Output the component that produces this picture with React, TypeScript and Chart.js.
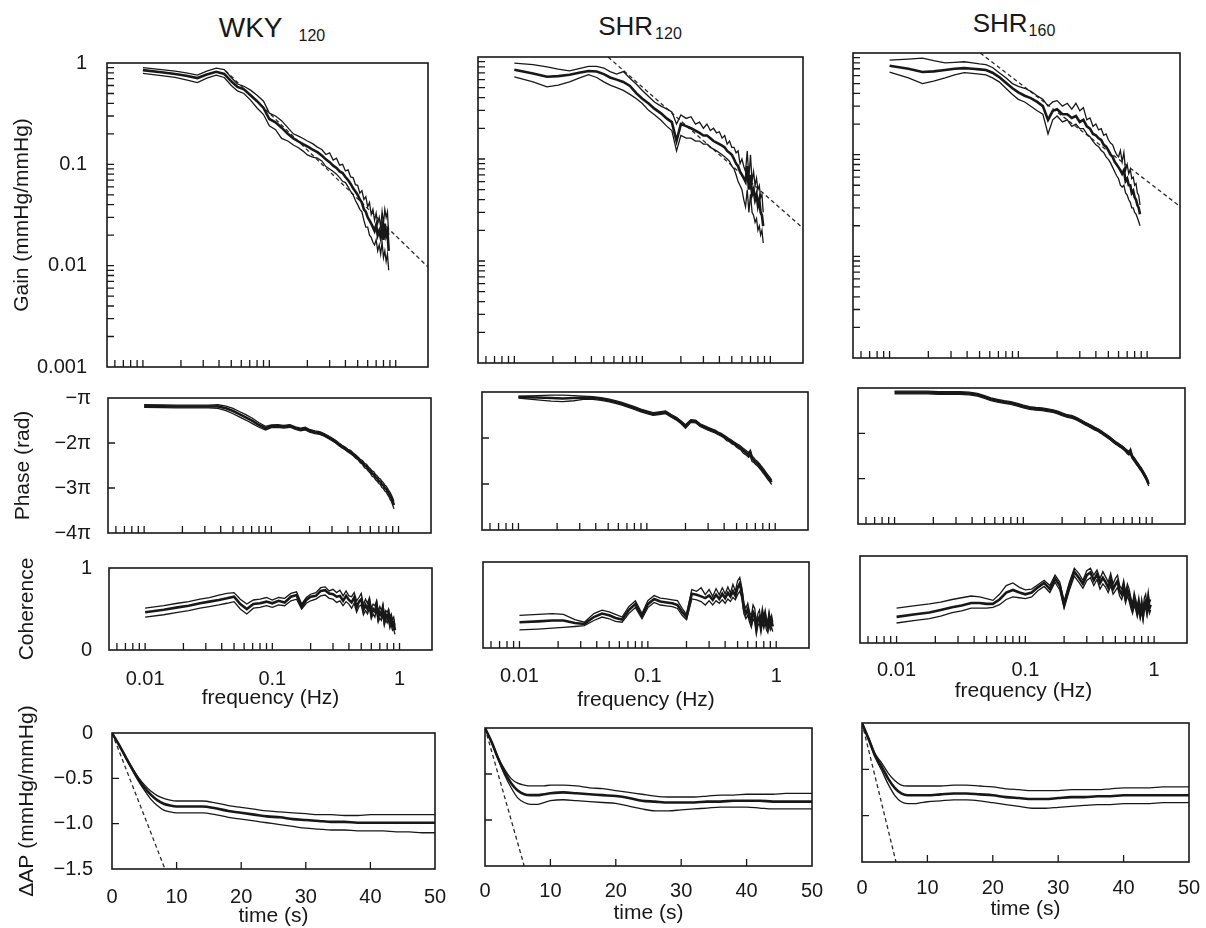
import React, { useEffect, useRef } from "react";
import { Chart, registerables } from "chart.js";
Chart.register(...registerables);

const FONT = '"Liberation Sans", Arial, Helvetica, sans-serif';
const INK = "#181818";

// ---------- shared axes ----------
const FREQ = [0.010, 0.014, 0.018, 0.022, 0.027, 0.032, 0.038, 0.044, 0.050, 0.056, 0.063, 0.071, 0.080, 0.090, 0.100, 0.112, 0.125, 0.140, 0.155, 0.170, 0.185, 0.200, 0.220, 0.240, 0.260, 0.280, 0.300, 0.320, 0.340, 0.360, 0.380, 0.400, 0.420, 0.440, 0.460, 0.480, 0.500, 0.520, 0.540, 0.560, 0.580, 0.600, 0.620, 0.640, 0.660, 0.680, 0.700, 0.720, 0.740, 0.760, 0.780, 0.800, 0.820, 0.840, 0.860, 0.880, 0.900, 0.920, 0.940];
const TIME = [0, 1, 2, 3, 4, 5, 6, 7, 8, 9, 10, 12, 14, 16, 18, 20, 22, 24, 26, 28, 30, 32, 34, 36, 38, 40, 42, 44, 46, 48, 50];

const FREQ_LABEL_VALUES = [0.01, 0.1, 1];
const FREQ_LABELS = ["0.01", "0.1", "1"];
const GAIN_LABEL_VALUES = [0.001, 0.01, 0.1, 1];
const GAIN_LABELS = ["0.001", "0.01", "0.1", "1"];
const PHASE_LABEL_VALUES = [-4, -3, -2, -1];
const PHASE_LABELS = ["\u22124\u03c0", "\u22123\u03c0", "\u22122\u03c0", "\u2212\u03c0"];
const COH_LABEL_VALUES = [0, 1];
const COH_LABELS = ["0", "1"];
const TIME_LABEL_VALUES = [0, 10, 20, 30, 40, 50];
const TIME_LABELS = ["0", "10", "20", "30", "40", "50"];
const DAP_LABEL_VALUES = [-1.5, -1, -0.5, 0];
const DAP_LABELS = ["\u22121.5", "\u22121.0", "\u22120.5", "0"];

const FREQ_TICK_MARKS = [0.006, 0.007, 0.008, 0.009, 0.01, 0.02, 0.03, 0.04, 0.05, 0.06, 0.07, 0.08, 0.09, 0.1, 0.2, 0.3, 0.4, 0.5, 0.6, 0.7, 0.8, 0.9, 1];
const GAIN_TICK_MARKS = [0.002, 0.003, 0.004, 0.005, 0.006, 0.007, 0.008, 0.009, 0.01, 0.02, 0.03, 0.04, 0.05, 0.06, 0.07, 0.08, 0.09, 0.1, 0.2, 0.3, 0.4, 0.5, 0.6, 0.7, 0.8, 0.9];
const PHASE_TICK_MARKS = [-2, -3];
const TIME_X_TICK_MARKS = [10, 20, 30, 40];
const TIME_Y_TICK_MARKS = [-0.5, -1];

// ---------- WKY120 ----------
const WKY_GAIN_UP = [0.90, 0.86, 0.83, 0.80, 0.76, 0.83, 0.89, 0.86, 0.72, 0.62, 0.59, 0.54, 0.48, 0.42, 0.32, 0.30, 0.27, 0.23, 0.20, 0.19, 0.18, 0.17, 0.16, 0.148, 0.14, 0.125, 0.13, 0.11, 0.115, 0.098, 0.10, 0.086, 0.088, 0.075, 0.074, 0.063, 0.062, 0.052, 0.055, 0.045, 0.048, 0.038, 0.042, 0.032, 0.036, 0.028, 0.033, 0.026, 0.03, 0.024, 0.034, 0.026, 0.036, 0.03, 0.034, 0.02, null, null, null];
const WKY_GAIN_MEAN = [0.85, 0.81, 0.78, 0.75, 0.71, 0.77, 0.82, 0.78, 0.66, 0.58, 0.55, 0.48, 0.42, 0.36, 0.28, 0.26, 0.23, 0.20, 0.18, 0.168, 0.158, 0.15, 0.14, 0.132, 0.122, 0.112, 0.105, 0.097, 0.092, 0.085, 0.082, 0.075, 0.07, 0.064, 0.058, 0.054, 0.05, 0.045, 0.042, 0.036, 0.034, 0.03, 0.028, 0.026, 0.024, 0.022, 0.025, 0.02, 0.022, 0.019, 0.024, 0.018, 0.026, 0.02, 0.022, 0.014, null, null, null];
const WKY_GAIN_LO = [0.79, 0.75, 0.72, 0.68, 0.64, 0.71, 0.76, 0.72, 0.60, 0.53, 0.50, 0.43, 0.36, 0.31, 0.24, 0.22, 0.18, 0.17, 0.155, 0.146, 0.135, 0.124, 0.118, 0.115, 0.108, 0.095, 0.09, 0.085, 0.08, 0.074, 0.068, 0.066, 0.06, 0.054, 0.05, 0.044, 0.04, 0.036, 0.034, 0.028, 0.024, 0.024, 0.02, 0.019, 0.017, 0.016, 0.018, 0.014, 0.016, 0.013, 0.017, 0.012, 0.014, 0.011, 0.013, 0.009, null, null, null];
const WKY_GAIN_DASH_F = [0.045, 1.8];
const WKY_GAIN_DASH_G = [0.84, 0.0097];

const WKY_PHASE_UP = [-1.15, -1.155, -1.16, -1.16, -1.16, -1.16, -1.15, -1.18, -1.23, -1.30, -1.37, -1.45, -1.55, -1.63, -1.60, -1.59, -1.61, -1.59, -1.64, -1.67, -1.65, -1.70, -1.73, -1.75, -1.79, -1.84, -1.89, -1.94, -2.00, -2.05, -2.09, -2.14, -2.16, -2.22, -2.26, -2.31, -2.36, -2.39, -2.45, -2.47, -2.53, -2.57, -2.62, -2.64, -2.70, -2.73, -2.78, -2.80, -2.85, -2.88, -2.93, -2.96, -3.01, -3.06, -3.10, -3.16, -3.22, -3.30, null];
const WKY_PHASE_MEAN = [-1.18, -1.185, -1.19, -1.19, -1.19, -1.19, -1.19, -1.23, -1.29, -1.36, -1.43, -1.51, -1.60, -1.67, -1.63, -1.62, -1.64, -1.62, -1.67, -1.70, -1.68, -1.73, -1.76, -1.78, -1.82, -1.87, -1.92, -1.97, -2.03, -2.08, -2.12, -2.17, -2.20, -2.25, -2.30, -2.34, -2.40, -2.43, -2.50, -2.52, -2.58, -2.62, -2.68, -2.70, -2.76, -2.79, -2.84, -2.86, -2.92, -2.94, -3.00, -3.02, -3.08, -3.12, -3.18, -3.22, -3.30, -3.38, null];
const WKY_PHASE_LO = [-1.21, -1.215, -1.22, -1.22, -1.22, -1.22, -1.23, -1.28, -1.35, -1.42, -1.49, -1.57, -1.65, -1.71, -1.66, -1.65, -1.67, -1.65, -1.70, -1.73, -1.71, -1.76, -1.79, -1.81, -1.85, -1.90, -1.95, -2.00, -2.06, -2.11, -2.15, -2.20, -2.24, -2.28, -2.34, -2.37, -2.44, -2.47, -2.55, -2.57, -2.63, -2.67, -2.74, -2.76, -2.82, -2.85, -2.90, -2.92, -2.99, -3.01, -3.07, -3.09, -3.15, -3.19, -3.26, -3.30, -3.38, -3.46, null];

const WKY_COH_UP = [0.51, 0.54, 0.57, 0.59, 0.62, 0.64, 0.67, 0.69, 0.70, 0.62, 0.56, 0.61, 0.62, 0.64, 0.61, 0.64, 0.63, 0.69, 0.71, 0.56, 0.64, 0.68, 0.70, 0.76, 0.77, 0.72, 0.74, 0.70, 0.73, 0.66, 0.72, 0.66, 0.65, 0.70, 0.60, 0.64, 0.69, 0.55, 0.62, 0.57, 0.64, 0.51, 0.56, 0.54, 0.60, 0.47, 0.53, 0.48, 0.56, 0.43, 0.48, 0.46, 0.50, 0.40, 0.44, 0.37, 0.40, 0.30, null];
const WKY_COH_MEAN = [0.46, 0.49, 0.52, 0.54, 0.57, 0.59, 0.61, 0.63, 0.65, 0.56, 0.50, 0.56, 0.57, 0.59, 0.57, 0.60, 0.58, 0.65, 0.67, 0.53, 0.61, 0.65, 0.66, 0.72, 0.73, 0.69, 0.68, 0.65, 0.66, 0.60, 0.66, 0.61, 0.58, 0.64, 0.52, 0.59, 0.62, 0.49, 0.55, 0.50, 0.58, 0.44, 0.50, 0.47, 0.55, 0.40, 0.46, 0.42, 0.50, 0.36, 0.43, 0.39, 0.44, 0.33, 0.38, 0.30, 0.33, 0.24, null];
const WKY_COH_LO = [0.40, 0.43, 0.46, 0.48, 0.51, 0.53, 0.55, 0.57, 0.59, 0.50, 0.44, 0.51, 0.52, 0.54, 0.52, 0.55, 0.54, 0.60, 0.62, 0.50, 0.57, 0.60, 0.62, 0.66, 0.67, 0.63, 0.62, 0.58, 0.60, 0.54, 0.59, 0.56, 0.51, 0.57, 0.46, 0.53, 0.55, 0.43, 0.48, 0.44, 0.51, 0.38, 0.44, 0.40, 0.49, 0.34, 0.39, 0.36, 0.43, 0.30, 0.37, 0.33, 0.37, 0.27, 0.32, 0.24, 0.26, 0.19, null];

const WKY_STEP_UP = [0, -0.12, -0.25, -0.37, -0.48, -0.57, -0.64, -0.69, -0.72, -0.74, -0.75, -0.75, -0.75, -0.77, -0.80, -0.82, -0.84, -0.86, -0.87, -0.88, -0.89, -0.90, -0.90, -0.91, -0.91, -0.90, -0.90, -0.90, -0.90, -0.90, -0.90];
const WKY_STEP_MEAN = [0, -0.12, -0.25, -0.38, -0.50, -0.60, -0.68, -0.74, -0.78, -0.80, -0.81, -0.81, -0.81, -0.83, -0.86, -0.88, -0.90, -0.92, -0.93, -0.95, -0.96, -0.97, -0.98, -0.98, -0.99, -0.99, -0.99, -0.99, -0.99, -0.99, -0.99];
const WKY_STEP_LO = [0, -0.12, -0.26, -0.39, -0.52, -0.63, -0.73, -0.80, -0.85, -0.87, -0.88, -0.88, -0.88, -0.90, -0.93, -0.95, -0.97, -0.99, -1.01, -1.03, -1.05, -1.06, -1.07, -1.07, -1.08, -1.08, -1.08, -1.09, -1.09, -1.10, -1.10];
const WKY_STEP_DASH_T = [0, 8.2];
const WKY_STEP_DASH_V = [0, -1.5];

// ---------- SHR120 ----------
const SHR120_GAIN_UP = [0.87, 0.84, 0.80, 0.76, 0.73, 0.77, 0.81, 0.81, 0.78, 0.72, 0.68, 0.72, 0.62, 0.54, 0.47, 0.41, 0.36, 0.33, 0.31, 0.29, 0.22, 0.27, 0.25, 0.26, 0.22, 0.23, 0.20, 0.22, 0.19, 0.20, 0.18, 0.185, 0.16, 0.17, 0.14, 0.15, 0.13, 0.13, 0.115, 0.12, 0.09, 0.10, 0.085, 0.075, 0.12, 0.065, 0.11, 0.06, 0.075, 0.055, 0.065, 0.05, 0.055, 0.042, 0.045, 0.03, null, null, null];
const SHR120_GAIN_MEAN = [0.75, 0.69, 0.64, 0.65, 0.67, 0.70, 0.73, 0.72, 0.68, 0.63, 0.60, 0.57, 0.52, 0.44, 0.39, 0.35, 0.31, 0.28, 0.25, 0.23, 0.15, 0.22, 0.21, 0.20, 0.19, 0.18, 0.17, 0.17, 0.16, 0.15, 0.145, 0.14, 0.135, 0.13, 0.12, 0.115, 0.11, 0.10, 0.09, 0.085, 0.075, 0.07, 0.065, 0.06, 0.085, 0.05, 0.07, 0.045, 0.05, 0.04, 0.045, 0.035, 0.04, 0.03, 0.028, 0.022, null, null, null];
const SHR120_GAIN_LO = [0.64, 0.57, 0.51, 0.53, 0.57, 0.62, 0.67, 0.63, 0.57, 0.53, 0.50, 0.47, 0.43, 0.39, 0.35, 0.30, 0.27, 0.24, 0.21, 0.19, 0.12, 0.17, 0.16, 0.16, 0.15, 0.15, 0.14, 0.14, 0.13, 0.125, 0.12, 0.115, 0.11, 0.105, 0.10, 0.095, 0.085, 0.08, 0.07, 0.06, 0.055, 0.05, 0.04, 0.034, 0.05, 0.03, 0.045, 0.03, 0.028, 0.024, 0.026, 0.02, 0.022, 0.018, 0.02, 0.015, null, null, null];
const SHR120_GAIN_DASH_F = [0.054, 1.8];
const SHR120_GAIN_DASH_G = [1.0, 0.021];

const SHR120_PHASE_UP = [-1.09, -1.08, -1.07, -1.07, -1.08, -1.09, -1.10, -1.12, -1.15, -1.18, -1.22, -1.27, -1.32, -1.37, -1.41, -1.45, -1.43, -1.41, -1.49, -1.55, -1.63, -1.71, -1.60, -1.61, -1.69, -1.73, -1.77, -1.80, -1.83, -1.87, -1.90, -1.94, -1.98, -2.02, -2.05, -2.09, -2.12, -2.15, -2.18, -2.22, -2.25, -2.28, -2.32, -2.26, -2.39, -2.43, -2.47, -2.50, -2.53, -2.57, -2.61, -2.65, -2.69, -2.73, -2.77, -2.81, -2.84, -2.88, -2.91];
const SHR120_PHASE_MEAN = [-1.11, -1.12, -1.13, -1.14, -1.13, -1.12, -1.13, -1.15, -1.18, -1.21, -1.25, -1.30, -1.35, -1.40, -1.44, -1.48, -1.46, -1.44, -1.52, -1.58, -1.66, -1.75, -1.63, -1.64, -1.72, -1.76, -1.80, -1.83, -1.86, -1.90, -1.93, -1.97, -2.02, -2.05, -2.09, -2.12, -2.16, -2.19, -2.22, -2.27, -2.30, -2.33, -2.37, -2.32, -2.45, -2.48, -2.52, -2.55, -2.58, -2.62, -2.66, -2.70, -2.74, -2.78, -2.82, -2.86, -2.89, -2.93, -2.96];
const SHR120_PHASE_LO = [-1.13, -1.17, -1.20, -1.21, -1.19, -1.16, -1.16, -1.18, -1.21, -1.24, -1.28, -1.33, -1.38, -1.43, -1.47, -1.51, -1.49, -1.47, -1.55, -1.61, -1.69, -1.79, -1.66, -1.67, -1.75, -1.79, -1.83, -1.86, -1.89, -1.93, -1.96, -2.00, -2.06, -2.08, -2.13, -2.15, -2.20, -2.23, -2.26, -2.32, -2.35, -2.38, -2.42, -2.38, -2.51, -2.53, -2.57, -2.60, -2.63, -2.67, -2.71, -2.75, -2.79, -2.83, -2.87, -2.91, -2.94, -2.98, -3.01];

const SHR120_COH_UP = [0.38, 0.39, 0.40, 0.39, 0.33, 0.30, 0.40, 0.44, 0.42, 0.39, 0.36, 0.48, 0.55, 0.40, 0.55, 0.61, 0.58, 0.57, 0.56, 0.55, 0.46, 0.39, 0.68, 0.66, 0.70, 0.62, 0.68, 0.60, 0.69, 0.62, 0.70, 0.63, 0.71, 0.64, 0.74, 0.66, 0.78, 0.82, 0.70, 0.52, 0.46, 0.52, 0.42, 0.37, 0.50, 0.46, 0.30, 0.40, 0.44, 0.32, 0.46, 0.37, 0.44, 0.34, 0.31, 0.42, 0.33, 0.38, 0.30];
const SHR120_COH_MEAN = [0.30, 0.31, 0.32, 0.32, 0.29, 0.28, 0.36, 0.40, 0.38, 0.35, 0.33, 0.44, 0.51, 0.37, 0.51, 0.57, 0.54, 0.53, 0.52, 0.50, 0.42, 0.36, 0.63, 0.62, 0.60, 0.58, 0.61, 0.56, 0.62, 0.57, 0.63, 0.58, 0.64, 0.60, 0.66, 0.61, 0.70, 0.75, 0.64, 0.46, 0.40, 0.45, 0.36, 0.30, 0.42, 0.38, 0.24, 0.33, 0.36, 0.26, 0.38, 0.30, 0.37, 0.28, 0.24, 0.35, 0.27, 0.31, 0.25];
const SHR120_COH_LO = [0.21, 0.22, 0.23, 0.24, 0.25, 0.26, 0.32, 0.36, 0.34, 0.31, 0.30, 0.40, 0.47, 0.34, 0.47, 0.53, 0.50, 0.49, 0.48, 0.46, 0.38, 0.33, 0.57, 0.56, 0.54, 0.50, 0.55, 0.50, 0.55, 0.52, 0.56, 0.52, 0.57, 0.54, 0.59, 0.56, 0.62, 0.66, 0.58, 0.40, 0.34, 0.38, 0.30, 0.24, 0.34, 0.30, 0.16, 0.26, 0.29, 0.18, 0.30, 0.23, 0.29, 0.21, 0.18, 0.28, 0.21, 0.24, 0.19];

const SHR120_STEP_UP = [0, -0.15, -0.32, -0.45, -0.55, -0.60, -0.62, -0.63, -0.63, -0.63, -0.62, -0.62, -0.63, -0.65, -0.66, -0.68, -0.70, -0.72, -0.74, -0.75, -0.75, -0.75, -0.74, -0.73, -0.73, -0.72, -0.72, -0.72, -0.71, -0.71, -0.71];
const SHR120_STEP_MEAN = [0, -0.15, -0.33, -0.48, -0.60, -0.68, -0.72, -0.73, -0.73, -0.72, -0.71, -0.70, -0.71, -0.72, -0.73, -0.74, -0.76, -0.79, -0.80, -0.81, -0.81, -0.81, -0.80, -0.80, -0.79, -0.79, -0.79, -0.80, -0.80, -0.80, -0.80];
const SHR120_STEP_LO = [0, -0.16, -0.34, -0.51, -0.65, -0.76, -0.81, -0.83, -0.83, -0.81, -0.79, -0.78, -0.79, -0.80, -0.81, -0.82, -0.85, -0.88, -0.90, -0.90, -0.89, -0.88, -0.87, -0.86, -0.86, -0.86, -0.87, -0.88, -0.88, -0.88, -0.88];
const SHR120_STEP_DASH_T = [0, 6.0];
const SHR120_STEP_DASH_V = [0, -1.5];

// ---------- SHR160 ----------
const SHR160_GAIN_UP = [0.85, 0.87, 0.89, 0.84, 0.80, 0.81, 0.82, 0.80, 0.78, 0.77, 0.72, 0.64, 0.57, 0.50, 0.47, 0.45, 0.42, 0.38, 0.35, 0.30, 0.33, 0.34, 0.30, 0.32, 0.28, 0.32, 0.27, 0.29, 0.22, 0.23, 0.19, 0.20, 0.175, 0.18, 0.155, 0.16, 0.14, 0.13, 0.125, 0.11, 0.10, 0.095, 0.11, 0.085, 0.105, 0.07, 0.08, 0.065, 0.072, 0.058, 0.06, 0.05, 0.052, 0.042, 0.04, 0.032, null, null, null];
const SHR160_GAIN_MEAN = [0.75, 0.70, 0.65, 0.66, 0.68, 0.70, 0.71, 0.70, 0.69, 0.68, 0.64, 0.58, 0.51, 0.45, 0.41, 0.38, 0.36, 0.33, 0.30, 0.22, 0.27, 0.28, 0.25, 0.25, 0.23, 0.24, 0.21, 0.22, 0.19, 0.18, 0.16, 0.155, 0.145, 0.14, 0.125, 0.12, 0.11, 0.10, 0.095, 0.085, 0.08, 0.075, 0.07, 0.065, 0.07, 0.055, 0.058, 0.05, 0.05, 0.042, 0.044, 0.038, 0.036, 0.032, 0.03, 0.026, null, null, null];
const SHR160_GAIN_LO = [0.65, 0.57, 0.50, 0.53, 0.57, 0.61, 0.64, 0.63, 0.62, 0.61, 0.57, 0.52, 0.45, 0.39, 0.35, 0.33, 0.30, 0.27, 0.25, 0.16, 0.22, 0.24, 0.21, 0.22, 0.19, 0.20, 0.18, 0.18, 0.16, 0.15, 0.135, 0.125, 0.12, 0.11, 0.105, 0.095, 0.09, 0.083, 0.075, 0.068, 0.062, 0.058, 0.05, 0.048, 0.05, 0.042, 0.04, 0.036, 0.034, 0.03, 0.03, 0.027, 0.026, 0.024, 0.022, 0.02, null, null, null];
const SHR160_GAIN_DASH_F = [0.0506, 1.8];
const SHR160_GAIN_DASH_G = [1.0, 0.031];

const SHR160_PHASE_UP = [-1.07, -1.07, -1.07, -1.08, -1.08, -1.08, -1.09, -1.12, -1.17, -1.22, -1.25, -1.28, -1.30, -1.34, -1.38, -1.41, -1.43, -1.44, -1.46, -1.48, -1.51, -1.55, -1.59, -1.61, -1.65, -1.70, -1.75, -1.79, -1.83, -1.87, -1.90, -1.94, -1.98, -2.02, -2.06, -2.10, -2.14, -2.18, -2.21, -2.24, -2.27, -2.30, -2.34, -2.37, -2.40, -2.34, -2.48, -2.52, -2.57, -2.62, -2.66, -2.71, -2.75, -2.80, -2.85, -2.90, -2.95, -3.01, -3.08];
const SHR160_PHASE_MEAN = [-1.10, -1.10, -1.10, -1.11, -1.11, -1.11, -1.12, -1.15, -1.20, -1.25, -1.28, -1.31, -1.33, -1.37, -1.41, -1.44, -1.46, -1.47, -1.49, -1.51, -1.54, -1.58, -1.62, -1.64, -1.68, -1.73, -1.78, -1.82, -1.86, -1.90, -1.93, -1.97, -2.01, -2.05, -2.09, -2.13, -2.17, -2.21, -2.24, -2.27, -2.30, -2.33, -2.37, -2.41, -2.44, -2.40, -2.52, -2.56, -2.61, -2.66, -2.70, -2.75, -2.79, -2.84, -2.89, -2.94, -2.99, -3.05, -3.12];
const SHR160_PHASE_LO = [-1.13, -1.13, -1.13, -1.14, -1.14, -1.14, -1.15, -1.18, -1.23, -1.28, -1.31, -1.34, -1.36, -1.40, -1.44, -1.47, -1.49, -1.50, -1.52, -1.54, -1.57, -1.61, -1.65, -1.67, -1.71, -1.76, -1.81, -1.85, -1.89, -1.93, -1.96, -2.00, -2.04, -2.08, -2.12, -2.16, -2.20, -2.24, -2.27, -2.30, -2.33, -2.36, -2.40, -2.45, -2.48, -2.46, -2.56, -2.60, -2.65, -2.70, -2.74, -2.79, -2.83, -2.88, -2.93, -2.98, -3.03, -3.09, -3.16];

const SHR160_COH_UP = [0.40, 0.43, 0.45, 0.47, 0.50, 0.52, 0.54, 0.53, 0.51, 0.49, 0.56, 0.66, 0.69, 0.64, 0.61, 0.62, 0.67, 0.72, 0.66, 0.78, 0.70, 0.48, 0.70, 0.86, 0.80, 0.72, 0.83, 0.86, 0.78, 0.84, 0.74, 0.82, 0.76, 0.70, 0.80, 0.68, 0.74, 0.78, 0.66, 0.62, 0.72, 0.58, 0.68, 0.62, 0.52, 0.45, 0.58, 0.50, 0.42, 0.52, 0.38, 0.50, 0.38, 0.52, 0.56, 0.44, 0.58, 0.46, 0.50];
const SHR160_COH_MEAN = [0.30, 0.33, 0.35, 0.38, 0.41, 0.43, 0.46, 0.46, 0.45, 0.45, 0.50, 0.58, 0.61, 0.58, 0.56, 0.58, 0.64, 0.69, 0.62, 0.74, 0.66, 0.44, 0.66, 0.82, 0.75, 0.68, 0.78, 0.81, 0.72, 0.79, 0.69, 0.75, 0.70, 0.64, 0.73, 0.62, 0.67, 0.71, 0.60, 0.56, 0.65, 0.52, 0.61, 0.55, 0.46, 0.40, 0.50, 0.44, 0.36, 0.45, 0.34, 0.43, 0.32, 0.45, 0.48, 0.38, 0.50, 0.40, 0.44];
const SHR160_COH_LO = [0.23, 0.26, 0.28, 0.31, 0.35, 0.37, 0.40, 0.40, 0.40, 0.41, 0.44, 0.50, 0.53, 0.52, 0.51, 0.53, 0.60, 0.65, 0.58, 0.70, 0.61, 0.40, 0.61, 0.77, 0.70, 0.63, 0.72, 0.75, 0.66, 0.73, 0.62, 0.68, 0.64, 0.58, 0.66, 0.56, 0.60, 0.64, 0.54, 0.50, 0.58, 0.46, 0.54, 0.48, 0.40, 0.34, 0.43, 0.38, 0.30, 0.38, 0.28, 0.36, 0.26, 0.38, 0.40, 0.32, 0.42, 0.34, 0.38];

const SHR160_STEP_UP = [0, -0.16, -0.33, -0.43, -0.54, -0.62, -0.67, -0.68, -0.68, -0.68, -0.68, -0.68, -0.67, -0.67, -0.68, -0.69, -0.71, -0.72, -0.73, -0.73, -0.73, -0.72, -0.72, -0.72, -0.71, -0.70, -0.70, -0.70, -0.69, -0.69, -0.69];
const SHR160_STEP_MEAN = [0, -0.17, -0.35, -0.47, -0.60, -0.70, -0.76, -0.78, -0.78, -0.78, -0.78, -0.77, -0.76, -0.76, -0.77, -0.78, -0.80, -0.81, -0.82, -0.82, -0.81, -0.80, -0.80, -0.79, -0.79, -0.78, -0.78, -0.78, -0.78, -0.78, -0.78];
const SHR160_STEP_LO = [0, -0.18, -0.37, -0.51, -0.66, -0.78, -0.85, -0.87, -0.87, -0.86, -0.85, -0.84, -0.83, -0.83, -0.84, -0.86, -0.88, -0.90, -0.92, -0.92, -0.91, -0.90, -0.89, -0.88, -0.88, -0.87, -0.87, -0.87, -0.86, -0.86, -0.86];
const SHR160_STEP_DASH_T = [0, 5.2];
const SHR160_STEP_DASH_V = [0, -1.5];

// ---------- chart building ----------
type Kind = "mean" | "band" | "dash";
type Series = { xs: number[]; ys: (number | null)[]; kind: Kind };

function trio(xs: number[], up: (number | null)[], mean: (number | null)[], lo: (number | null)[], dx?: number[], dy?: number[]): Series[] {
  const s: Series[] = [
    { xs, ys: up, kind: "band" },
    { xs, ys: lo, kind: "band" },
    { xs, ys: mean, kind: "mean" },
  ];
  if (dx && dy) s.push({ xs: dx, ys: dy, kind: "dash" });
  return s;
}

type Spec = {
  frame: [number, number, number, number];
  padL: number; padT: number; padR: number; padB: number;
  xType: string; xMin: number; xMax: number; xVals: number[]; xLabels?: string[]; xPad?: number; xTitle?: string; xTitleLH?: number; xTitlePad?: number;
  yType: string; yMin: number; yMax: number; yVals: number[]; yLabels?: string[]; yPad?: number; yTitle?: string; yTitlePad?: number;
  xMarks: number[]; yMarks: number[];
  series: Series[];
  smooth?: boolean;
};

function buildConfig(p: Spec): any {
  const datasets = p.series.map((s) => ({
    data: s.xs.map((x, i) => ({ x, y: s.ys[i] })),
    borderColor: s.kind === "dash" ? "#2a2a2a" : INK,
    borderWidth: s.kind === "mean" ? 2.6 : 1.3,
    borderDash: s.kind === "dash" ? [4, 3] : [],
    pointRadius: 0,
    fill: false,
    tension: p.smooth && s.kind !== "dash" ? 0.4 : 0,
    cubicInterpolationMode: p.smooth && s.kind !== "dash" ? "monotone" : "default",
    spanGaps: false,
  }));
  const frameAndTicks = {
    id: "frameAndTicks",
    afterDraw(chart: any) {
      const { ctx, chartArea: a, scales } = chart;
      ctx.save();
      ctx.strokeStyle = INK;
      ctx.lineWidth = 1.3;
      ctx.beginPath();
      for (const v of p.xMarks) {
        const x = scales.x.getPixelForValue(v);
        ctx.moveTo(x, a.bottom);
        ctx.lineTo(x, a.bottom - 7);
      }
      for (const v of p.yMarks) {
        const y = scales.y.getPixelForValue(v);
        ctx.moveTo(a.left, y);
        ctx.lineTo(a.left + 7, y);
      }
      ctx.stroke();
      ctx.lineWidth = 1.6;
      ctx.strokeRect(a.left, a.top, a.right - a.left, a.bottom - a.top);
      ctx.restore();
    },
  };
  return {
    type: "line",
    data: { datasets },
    plugins: [frameAndTicks],
    options: {
      animation: false,
      responsive: false,
      devicePixelRatio: 1,
      layout: { padding: { left: 0, top: p.padT, right: p.padR, bottom: 0 } },
      plugins: { legend: { display: false }, tooltip: { enabled: false } },
      scales: {
        x: {
          type: p.xType,
          position: "bottom",
          min: p.xMin,
          max: p.xMax,
          bounds: "data",
          grid: { display: false },
          border: { display: false },
          ticks: {
            display: !!p.xLabels,
            color: INK,
            font: { family: FONT, size: 20, lineHeight: 1.2 },
            padding: p.xPad ?? 8,
            autoSkip: false,
            maxRotation: 0,
            minRotation: 0,
            callback: (_v: any, i: number) => (p.xLabels ? p.xLabels[i] : ""),
          },
          title: {
            display: !!p.xTitle,
            text: p.xTitle || "",
            color: INK,
            font: { family: FONT, size: 21, lineHeight: p.xTitleLH ?? 1.2 },
            padding: { top: 0, bottom: p.xTitlePad ?? 0 },
          },
          afterBuildTicks: (s: any) => {
            s.ticks = p.xVals.map((v) => ({ value: v }));
          },
          afterFit: (s: any) => {
            s.height = p.padB;
            s.paddingLeft = 0;
            s.paddingRight = 0;
          },
        },
        y: {
          type: p.yType,
          position: "left",
          min: p.yMin,
          max: p.yMax,
          bounds: "data",
          grid: { display: false },
          border: { display: false },
          ticks: {
            display: !!p.yLabels,
            color: INK,
            font: { family: FONT, size: 20, lineHeight: 1.2 },
            padding: p.yPad ?? 10,
            autoSkip: false,
            callback: (_v: any, i: number) => (p.yLabels ? p.yLabels[i] : ""),
          },
          title: {
            display: !!p.yTitle,
            text: p.yTitle || "",
            color: INK,
            font: { family: FONT, size: 21, lineHeight: 1.2 },
            padding: { top: p.yTitlePad ?? 10, bottom: 0 },
          },
          afterBuildTicks: (s: any) => {
            s.ticks = p.yVals.map((v) => ({ value: v }));
          },
          afterFit: (s: any) => {
            s.width = p.padL;
            s.paddingTop = 0;
            s.paddingBottom = 0;
          },
        },
      },
    },
  };
}

function Panel({ spec }: { spec: Spec }) {
  const ref = useRef<HTMLCanvasElement | null>(null);
  const [l, t, r, b] = spec.frame;
  const W = r - l + spec.padL + spec.padR;
  const H = b - t + spec.padT + spec.padB;
  useEffect(() => {
    if (!ref.current) return;
    const chart = new Chart(ref.current, buildConfig(spec));
    return () => chart.destroy();
  }, []);
  return (
    <canvas
      ref={ref}
      width={W}
      height={H}
      style={{ position: "absolute", left: l - spec.padL, top: t - spec.padT, width: W, height: H }}
    />
  );
}

type ColumnData = { gain: Series[]; phase: Series[]; coh: Series[]; step: Series[] };

const COLUMN_DATA: ColumnData[] = [
  {
    gain: trio(FREQ, WKY_GAIN_UP, WKY_GAIN_MEAN, WKY_GAIN_LO, WKY_GAIN_DASH_F, WKY_GAIN_DASH_G),
    phase: trio(FREQ, WKY_PHASE_UP, WKY_PHASE_MEAN, WKY_PHASE_LO),
    coh: trio(FREQ, WKY_COH_UP, WKY_COH_MEAN, WKY_COH_LO),
    step: trio(TIME, WKY_STEP_UP, WKY_STEP_MEAN, WKY_STEP_LO, WKY_STEP_DASH_T, WKY_STEP_DASH_V),
  },
  {
    gain: trio(FREQ, SHR120_GAIN_UP, SHR120_GAIN_MEAN, SHR120_GAIN_LO, SHR120_GAIN_DASH_F, SHR120_GAIN_DASH_G),
    phase: trio(FREQ, SHR120_PHASE_UP, SHR120_PHASE_MEAN, SHR120_PHASE_LO),
    coh: trio(FREQ, SHR120_COH_UP, SHR120_COH_MEAN, SHR120_COH_LO),
    step: trio(TIME, SHR120_STEP_UP, SHR120_STEP_MEAN, SHR120_STEP_LO, SHR120_STEP_DASH_T, SHR120_STEP_DASH_V),
  },
  {
    gain: trio(FREQ, SHR160_GAIN_UP, SHR160_GAIN_MEAN, SHR160_GAIN_LO, SHR160_GAIN_DASH_F, SHR160_GAIN_DASH_G),
    phase: trio(FREQ, SHR160_PHASE_UP, SHR160_PHASE_MEAN, SHR160_PHASE_LO),
    coh: trio(FREQ, SHR160_COH_UP, SHR160_COH_MEAN, SHR160_COH_LO),
    step: trio(TIME, SHR160_STEP_UP, SHR160_STEP_MEAN, SHR160_STEP_LO, SHR160_STEP_DASH_T, SHR160_STEP_DASH_V),
  },
];

// layout (pixel geometry only)
const LAYOUT = [
  { gain: [107, 63, 428, 367], phase: [108, 398, 431, 533], coh: [109, 568, 432, 650], step: [112, 733, 435, 869], cohB: 61, cohPad: 9, stepPad: 8 },
  { gain: [478, 57, 803, 363], phase: [482, 392, 808, 530], coh: [483, 562, 809, 648], step: [485, 728, 812, 866], cohB: 65, cohPad: 8, stepPad: 5 },
  { gain: [853, 53, 1180, 358], phase: [858, 388, 1185, 524], coh: [860, 556, 1187, 643], step: [862, 723, 1189, 862], cohB: 61, cohPad: 7, stepPad: 6 },
];

function buildSpecs(): Spec[] {
  const specs: Spec[] = [];
  const FMIN = 0.0052, FMAX = 1.8;
  LAYOUT.forEach((g, c) => {
    const first = c === 0;
    const d = COLUMN_DATA[c];
    const padL = (f: number[]) => (first ? f[0] : 8);
    specs.push({
      frame: g.gain as any, padL: padL(g.gain), padT: 14, padR: 14, padB: 14,
      xType: "logarithmic", xMin: FMIN, xMax: FMAX, xVals: FREQ_LABEL_VALUES,
      yType: "logarithmic", yMin: 0.001, yMax: 1, yVals: GAIN_LABEL_VALUES,
      yLabels: first ? GAIN_LABELS : undefined, yPad: 12,
      yTitle: first ? "Gain (mmHg/mmHg)" : undefined, yTitlePad: 10,
      xMarks: FREQ_TICK_MARKS, yMarks: GAIN_TICK_MARKS, series: d.gain,
    });
    specs.push({
      frame: g.phase as any, padL: padL(g.phase), padT: 14, padR: 14, padB: 14,
      xType: "logarithmic", xMin: FMIN, xMax: FMAX, xVals: FREQ_LABEL_VALUES,
      yType: "linear", yMin: -4, yMax: -1, yVals: PHASE_LABEL_VALUES,
      yLabels: first ? PHASE_LABELS : undefined, yPad: 9,
      yTitle: first ? "Phase (rad)" : undefined, yTitlePad: 11,
      xMarks: FREQ_TICK_MARKS, yMarks: PHASE_TICK_MARKS, series: d.phase,
    });
    specs.push({
      frame: g.coh as any, padL: padL(g.coh), padT: 14, padR: 14, padB: g.cohB,
      xType: "logarithmic", xMin: FMIN, xMax: FMAX, xVals: FREQ_LABEL_VALUES,
      xLabels: FREQ_LABELS, xPad: g.cohPad, xTitle: "frequency (Hz)", xTitleLH: 1.2, xTitlePad: 0,
      yType: "linear", yMin: 0, yMax: 1, yVals: COH_LABEL_VALUES,
      yLabels: first ? COH_LABELS : undefined, yPad: 9,
      yTitle: first ? "Coherence" : undefined, yTitlePad: 15,
      xMarks: FREQ_TICK_MARKS, yMarks: [], series: d.coh,
    });
    specs.push({
      frame: g.step as any, padL: padL(g.step), padT: 40, padR: 14, padB: 58,
      xType: "linear", xMin: 0, xMax: 50, xVals: TIME_LABEL_VALUES,
      xLabels: TIME_LABELS, xPad: g.stepPad, xTitle: "time (s)", xTitleLH: 1.0, xTitlePad: 0,
      yType: "linear", yMin: -1.5, yMax: 0, yVals: DAP_LABEL_VALUES,
      yLabels: first ? DAP_LABELS : undefined, yPad: 11,
      yTitle: first ? "\u0394AP (mmHg/mmHg)" : undefined, yTitlePad: 15,
      xMarks: TIME_X_TICK_MARKS, yMarks: TIME_Y_TICK_MARKS, series: d.step, smooth: true,
    });
  });
  return specs;
}

const TITLES = [
  { name: "WKY", sub: "120", cx: 272, top: 15, gap: 16, size: 28 },
  { name: "SHR", sub: "120", cx: 640, top: 13, gap: 2, size: 26 },
  { name: "SHR", sub: "160", cx: 1014, top: 10, gap: 1, size: 26 },
];

export default function App() {
  useEffect(() => {
    document.body.style.overflow = "hidden";
  }, []);
  const specs = buildSpecs();
  return (
    <div style={{ position: "absolute", left: 0, top: 0, width: 1206, height: 928, overflow: "hidden", background: "#fff" }}>
      {TITLES.map((t, i) => (
        <div
          key={i}
          style={{
            position: "absolute", left: t.cx - 110, top: t.top, width: 220, textAlign: "center",
            fontFamily: FONT, fontSize: t.size, lineHeight: "26px", color: INK, whiteSpace: "nowrap",
          }}
        >
          {t.name}
          <span style={{ fontSize: 16, marginLeft: t.gap, position: "relative", top: 4 }}>{t.sub}</span>
        </div>
      ))}
      {specs.map((s, i) => (
        <Panel key={i} spec={s} />
      ))}
    </div>
  );
}
